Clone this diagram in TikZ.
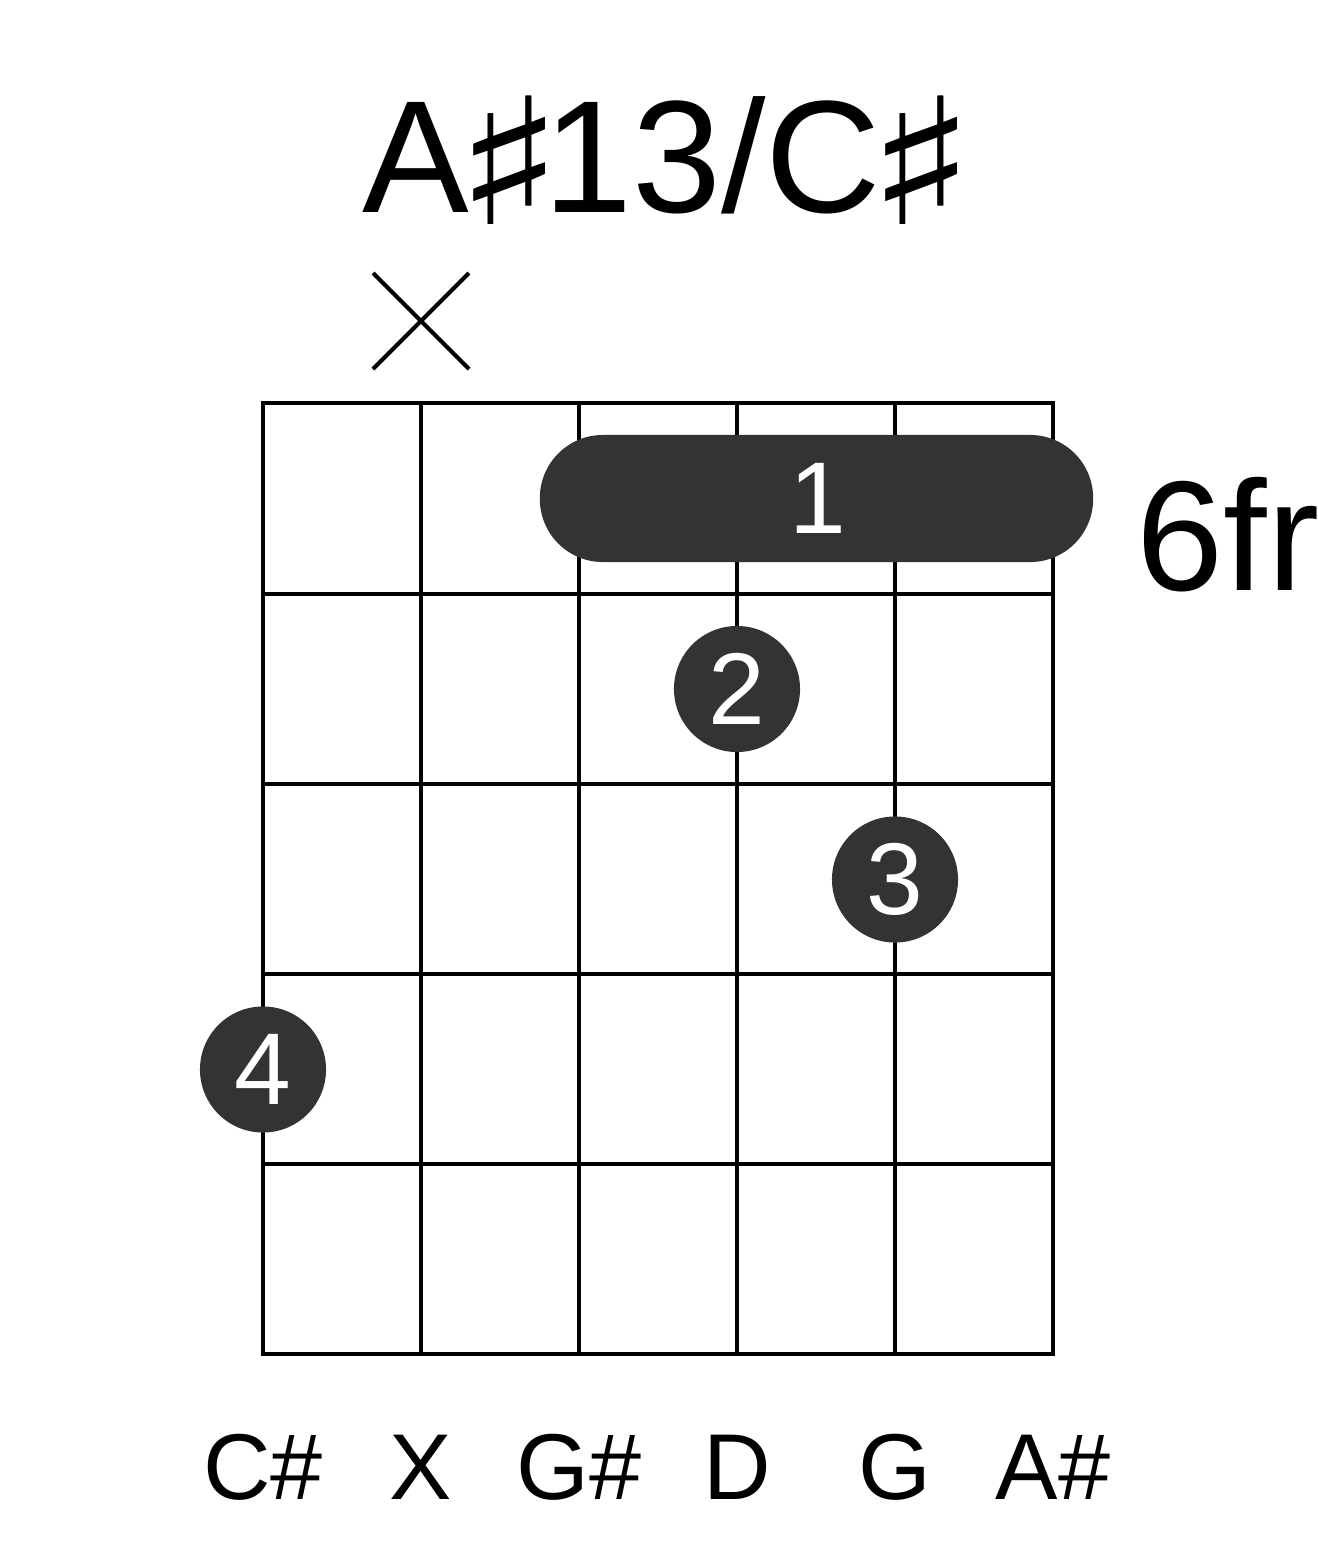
\documentclass[tikz,border=0pt]{standalone}
\usepackage{fontspec}
\setmainfont{Liberation Sans}
\newfontfamily\symfont{DejaVu Sans}
\newcommand{\bigsharp}{\hspace{-0.15cm}\raisebox{-0.12cm}{\scalebox{1.42}[1.1]{\symfont ♯}}\hspace{-0.21cm}}
\definecolor{dotgray}{HTML}{333333}
\begin{document}
\begin{tikzpicture}[x=0.01cm,y=-0.01cm,
  gridline/.style={line width=0.04cm,black},
  fingerdot/.style={circle,fill=dotgray,minimum size=1.26cm,inner sep=0pt,text=white,font=\fontsize{29}{29}\selectfont},
  barrebox/.style={rounded corners=0.63cm,fill=dotgray,minimum width=5.53cm,minimum height=1.27cm,inner sep=0pt,text=white,font=\fontsize{29}{29}\selectfont},
  notelabel/.style={anchor=base,inner sep=0pt,font=\fontsize{26.6}{26.6}\selectfont},
  mutemark/.style={line width=0.04cm,black}]
\useasboundingbox (0,0) rectangle (1317,1551);
% title
\node[anchor=base west,inner sep=0pt,font=\fontsize{45.5}{45.5}\selectfont] (title) at (362,212) {A\bigsharp 13/C\bigsharp};
% grid
\foreach \i [count=\k] in {263,421,579,737,895,1053} {
  \coordinate (st\k) at (\i,403);
  \coordinate (sb\k) at (\i,1354);
  \draw[gridline] (st\k) -- (sb\k);
}
\foreach \j [count=\k] in {403,594,784,974,1164,1354} {
  \coordinate (fl\k) at (263,\j);
  \coordinate (fr\k) at (1053,\j);
  \draw[gridline,line cap=rect] (fl\k) -- (fr\k);
}
% mute mark
\coordinate (m1) at (373,273);
\coordinate (m2) at (469,369);
\coordinate (m3) at (469,273);
\coordinate (m4) at (373,369);
\draw[mutemark] (m1) -- (m2);
\draw[mutemark] (m3) -- (m4);
% barre
\node[barrebox] (barre) at (816.5,498.5) {};
\node[text=white,inner sep=0pt,font=\fontsize{29}{29}\selectfont] (barrelabel) at (818,498.5) {1};
% dots
\node[fingerdot] (d2) at (737,689) {2};
\node[fingerdot] (d3) at (895,879.5) {3};
\node[fingerdot] (d4) at (263,1069.5) {4};
% fret label
\node[anchor=base west,inner sep=0pt,font=\fontsize{44.5}{44.5}\selectfont] (fret) at (1136,590) {6fr};
% note labels
\node[notelabel] (n1) at (263,1499) {C\#};
\node[notelabel] (n2) at (421,1499) {X};
\node[notelabel] (n3) at (579,1499) {G\#};
\node[notelabel] (n4) at (737,1499) {D};
\node[notelabel] (n5) at (895,1499) {G};
\node[notelabel] (n6) at (1053,1499) {A\#};
\end{tikzpicture}
\end{document}
